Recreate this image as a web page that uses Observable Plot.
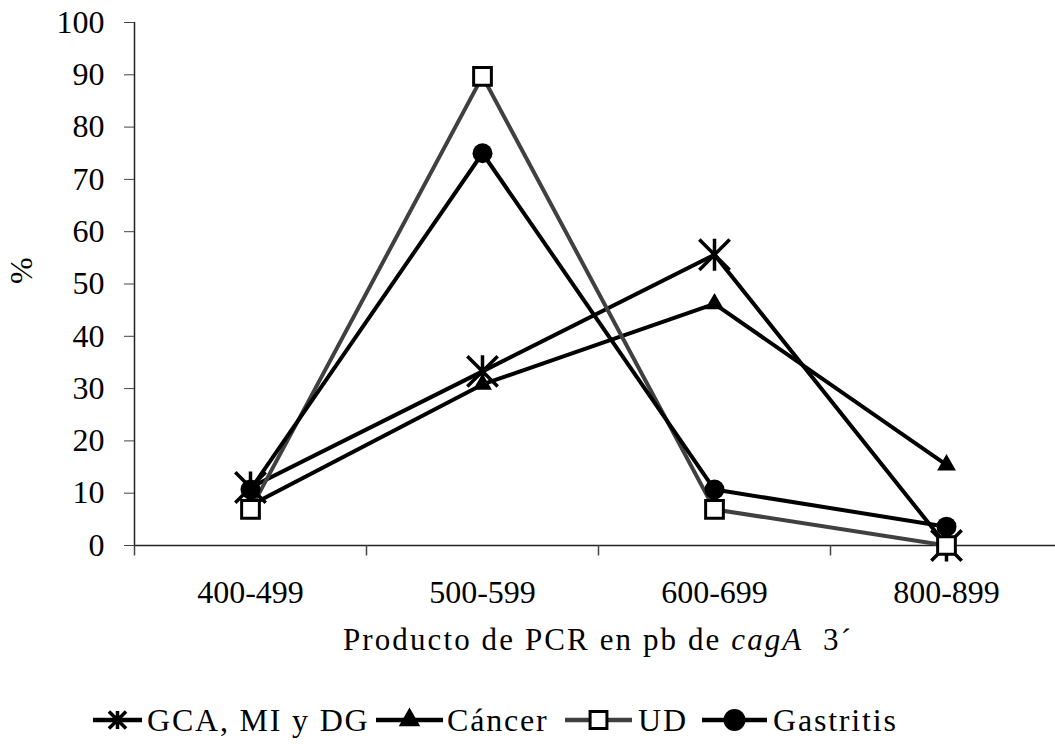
<!DOCTYPE html>
<html>
<head>
<meta charset="utf-8">
<script src="https://cdn.jsdelivr.net/npm/d3@7"></script>
<script src="https://cdn.jsdelivr.net/npm/@observablehq/plot@0.6"></script>
<style>
  body { margin: 0; background: #fff; font-family: "Liberation Serif", "Times New Roman", serif; }
  #wrap { position: relative; width: 1055px; height: 744px; }
  #title { position: absolute; left: 343px; top: 622px; font-size: 31px; letter-spacing: 2.1px; color: #000; white-space: nowrap; }
  #legend { position: absolute; left: 0; top: 700px; }
</style>
</head>
<body>
<div id="wrap">
  <div id="chart"></div>
  <div id="title">Producto de PCR en pb de <i>cagA</i>&nbsp; 3´</div>
  <div id="legend"></div>
</div>
<script>
const categories = ["400-499", "500-599", "600-699", "800-899"];
const seriesNames = ["GCA, MI y DG", "Cáncer", "UD", "Gastritis"];
const gca = [11.1, 33.3, 55.6, 0];
const cancer = [7.7, 30.8, 46.2, 15.4];
const ud = [6.9, 89.7, 6.9, 0];
const gastritis = [10.7, 75.0, 10.7, 3.6];
const yTicks = [0, 10, 20, 30, 40, 50, 60, 70, 80, 90, 100];

// Excel-style star marker: vertical bar plus an X
const excelStar = {
  draw(ctx, size) {
    const r = Math.sqrt(size / Math.PI);
    const d = r * 0.95;
    ctx.moveTo(0, -r); ctx.lineTo(0, r);
    ctx.moveTo(-d, -d); ctx.lineTo(d, d);
    ctx.moveTo(-d, d); ctx.lineTo(d, -d);
  }
};
const symbols = {star: excelStar, triangle: d3.symbolTriangle, square: d3.symbolSquare, circle: d3.symbolCircle};

const styles = [
  {name: seriesNames[0], values: gca, color: "#000", symbol: "star", r: 16, fill: "none", sw: 3.5, lr: 9},
  {name: seriesNames[1], values: cancer, color: "#000", symbol: "triangle", r: 7, fill: "#000", sw: 0, lr: 8},
  {name: seriesNames[2], values: ud, color: "#404040", symbol: "square", r: 10, fill: "#fff", sw: 3, lr: 9.5},
  {name: seriesNames[3], values: gastritis, color: "#000", symbol: "circle", r: 10, fill: "#000", sw: 0, lr: 11}
];

const rows = s => s.values.map((v, i) => ({i, v, name: s.name}));

const marks = [
  Plot.ruleY([0], {x1: -0.5, x2: 3.5, stroke: "#222", strokeWidth: 1.5}),
  Plot.ruleX([-0.5], {y1: 0, y2: 100, stroke: "#222", strokeWidth: 1.5}),
  Plot.ruleX([-0.5, 0.5, 1.5, 2.5], {y1: 0, y2: -2, stroke: "#444", strokeWidth: 1.5}),
  Plot.axisY({ticks: yTicks, tickSize: 10, tickPadding: 20, fontSize: 32, label: null, stroke: "#444"}),
  Plot.axisX({ticks: [0, 1, 2, 3], tickSize: 0, tickPadding: 35, fontSize: 32, label: null,
    tickFormat: i => categories[i], style: {letterSpacing: "3.6px"}}),
  Plot.text(["%"], {frameAnchor: "left", dx: -113, rotate: -90, fontSize: 32})
];
for (const s of styles) {
  marks.push(Plot.line(rows(s), {x: "i", y: "v", stroke: s.color, strokeWidth: 4}));
}
for (const s of styles) {
  marks.push(Plot.dot(rows(s), {x: "i", y: "v", symbol: symbols[s.symbol], r: s.r,
    fill: s.fill, stroke: s.sw ? (s.symbol === "square" ? "#000" : s.color) : "none", strokeWidth: s.sw}));
}

const chart = Plot.plot({
  width: 1055,
  height: 620,
  marginLeft: 134,
  marginRight: 0,
  marginTop: 22,
  marginBottom: 75,
  style: {fontFamily: "'Liberation Serif', 'Times New Roman', serif", color: "#000", background: "#fff"},
  x: {type: "linear", domain: [-0.5, 3.5], range: [134, 1062], axis: null},
  y: {domain: [0, 100], axis: null},
  marks
});
document.getElementById("chart").appendChild(chart);

// legend (one svg, positions of each entry)
const legendLayout = [
  {x1: 93, x2: 142, tx: 147},
  {x1: 376, x2: 443, tx: 447},
  {x1: 565, x2: 632, tx: 638},
  {x1: 702, x2: 767, tx: 773}
];
const svg = d3.select("#legend").append("svg").attr("width", 1055).attr("height", 44)
  .style("font-family", "'Liberation Serif', 'Times New Roman', serif");
styles.forEach((s, k) => {
  const L = legendLayout[k];
  const cy = 20;
  svg.append("line").attr("x1", L.x1).attr("x2", L.x2).attr("y1", cy).attr("y2", cy)
    .attr("stroke", s.color).attr("stroke-width", 4.5);
  const stroke = s.sw ? (s.symbol === "square" ? "#000" : s.color) : "none";
  svg.append("path").attr("d", d3.symbol(symbols[s.symbol], Math.PI * s.lr * s.lr)())
    .attr("transform", `translate(${(L.x1 + L.x2) / 2},${cy})`)
    .attr("fill", s.fill).attr("stroke", stroke).attr("stroke-width", s.sw);
  svg.append("text").attr("x", L.tx).attr("y", cy + 11).attr("font-size", 32)
    .attr("letter-spacing", "1.8px").attr("fill", "#000").text(s.name);
});
</script>
</body>
</html>
